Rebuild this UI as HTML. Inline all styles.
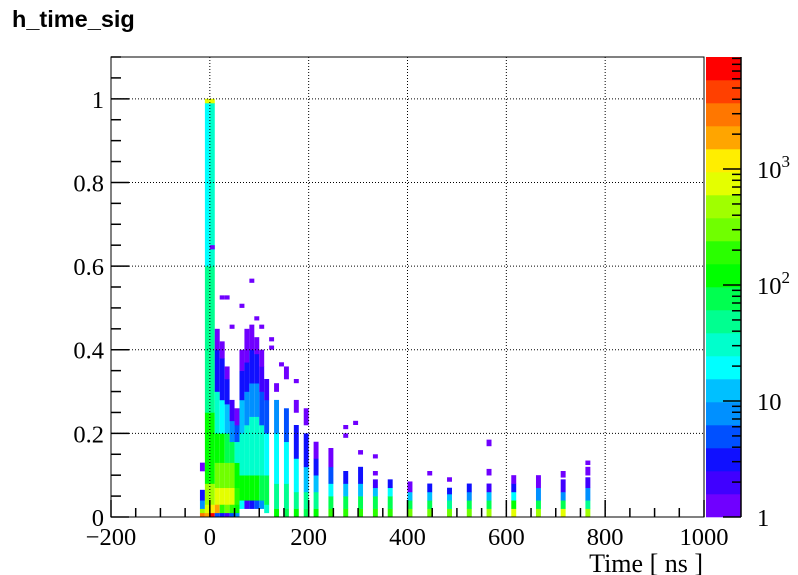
<!DOCTYPE html>
<html><head><meta charset="utf-8"><style>
html,body{margin:0;padding:0;background:#fff;}
svg{display:block;}
text{font-family:"Liberation Serif",serif;}
</style></head><body>
<svg id="c" width="798" height="575" viewBox="0 0 798 575" xmlns="http://www.w3.org/2000/svg">
<text x="12" y="27" style="font-family:'Liberation Sans',sans-serif;font-weight:bold;font-size:23.5px">h_time_sig</text>
<g id="cells"></g>
<g id="grid"></g>
<rect x="111" y="57" width="593" height="460" fill="none" stroke="#000" stroke-width="1"/>
<g id="axes"></g>
<g id="palette"></g>
<text x="703" y="572" text-anchor="end" font-size="26">Time [ ns ]</text>
</svg>
<script>
// ---- data ----
const xTicks = [-200, 0, 200, 400, 600, 800, 1000];
const yTicks = [0, 0.2, 0.4, 0.6, 0.8, 1];
const yTickLabels = ["0", "0.2", "0.4", "0.6", "0.8", "1"];
const zTicks = [1, 10, 100, 1000];
// blocks: [binStartNs, yLow, yHigh, counts]
const blocks = [
 [-20,0,0.01,2700],[-20,0.01,0.02,440],[-20,0.02,0.04,8],[-20,0.04,0.065,3],[-20,0.11,0.13,1],
 [-10,0,0.01,1700],[-10,0.01,0.03,900],[-10,0.03,0.08,440],[-10,0.08,0.25,115],[-10,0.25,0.6,47],[-10,0.6,0.99,19],[-10,0.99,1.0,700],
 [0,0,0.01,6500],[0,0.01,0.03,1100],[0,0.03,0.08,440],[0,0.08,0.25,115],[0,0.25,0.6,47],[0,0.6,0.99,25],[0,0.99,1.0,700],
 [10,0,0.01,5],[10,0.01,0.03,1700],[10,0.03,0.07,900],[10,0.07,0.13,280],[10,0.13,0.2,115],[10,0.2,0.3,30],[10,0.3,0.4,3],[10,0.4,0.45,1],
 [20,0,0.01,3],[20,0.01,0.03,180],[20,0.03,0.07,900],[20,0.07,0.13,350],[20,0.13,0.2,115],[20,0.2,0.28,19],[20,0.28,0.38,3],[20,0.38,0.42,1],
 [30,0,0.01,2],[30,0.01,0.03,280],[30,0.03,0.07,900],[30,0.07,0.13,280],[30,0.13,0.2,73],[30,0.2,0.27,12],[30,0.27,0.33,3],[30,0.33,0.36,1],
 [40,0,0.01,5],[40,0.01,0.03,180],[40,0.03,0.07,700],[40,0.07,0.13,280],[40,0.13,0.18,73],[40,0.18,0.23,8],[40,0.23,0.28,2],
 [50,0,0.01,8],[50,0.01,0.03,115],[50,0.03,0.07,180],[50,0.07,0.13,115],[50,0.13,0.18,30],[50,0.18,0.22,5],[50,0.22,0.26,1],
 [60,0.02,0.04,19],[60,0.04,0.1,115],[60,0.1,0.2,30],[60,0.2,0.28,12],[60,0.28,0.35,3],[60,0.35,0.4,1],
 [70,0.02,0.04,2],[70,0.04,0.1,115],[70,0.1,0.22,30],[70,0.22,0.3,8],[70,0.3,0.37,3],[70,0.37,0.45,1],
 [80,0.02,0.04,3],[80,0.04,0.1,115],[80,0.1,0.24,30],[80,0.24,0.32,8],[80,0.32,0.4,3],[80,0.4,0.46,1],
 [90,0.02,0.04,5],[90,0.04,0.1,115],[90,0.1,0.24,25],[90,0.24,0.32,8],[90,0.32,0.39,3],[90,0.39,0.43,1],
 [100,0.02,0.04,8],[100,0.04,0.1,90],[100,0.1,0.22,25],[100,0.22,0.3,5],[100,0.3,0.36,2],[100,0.36,0.4,1],
 [110,0.01,0.03,30],[110,0.03,0.1,73],[110,0.1,0.2,19],[110,0.2,0.28,5],[110,0.28,0.33,2],
 [130,0,0.02,115],[130,0.02,0.08,47],[130,0.08,0.2,19],[130,0.2,0.28,8],[130,0.3,0.32,1],
 [150,0,0.02,73],[150,0.02,0.08,47],[150,0.08,0.18,19],[150,0.18,0.26,5],[150,0.33,0.36,1],
 [170,0,0.02,115],[170,0.02,0.06,47],[170,0.06,0.14,19],[170,0.14,0.22,3],[170,0.25,0.28,1],
 [190,0,0.02,73],[190,0.02,0.06,47],[190,0.06,0.12,12],[190,0.12,0.2,3],[190,0.22,0.26,1],
 [210,0,0.02,115],[210,0.02,0.06,47],[210,0.06,0.1,12],[210,0.1,0.14,3],[210,0.14,0.18,1],
 [240,0,0.02,180],[240,0.02,0.05,73],[240,0.05,0.08,19],[240,0.08,0.12,5],[240,0.12,0.165,1],
 [270,0,0.02,180],[270,0.02,0.05,73],[270,0.05,0.08,12],[270,0.08,0.11,3],[270,0.19,0.2,1],
 [300,0,0.02,180],[300,0.02,0.05,73],[300,0.05,0.08,12],[300,0.08,0.12,3],[300,0.15,0.16,1],
 [330,0,0.02,180],[330,0.02,0.05,73],[330,0.05,0.07,12],[330,0.07,0.09,2],[330,0.1,0.11,1],
 [360,0,0.02,180],[360,0.02,0.05,73],[360,0.05,0.07,19],[360,0.07,0.09,3],
 [400,0,0.02,280],[400,0.02,0.04,73],[400,0.04,0.06,12],[400,0.06,0.085,1],
 [440,0,0.02,280],[440,0.02,0.04,73],[440,0.04,0.06,12],[440,0.06,0.08,3],[440,0.1,0.11,1],
 [480,0,0.02,280],[480,0.02,0.04,47],[480,0.04,0.055,12],[480,0.055,0.07,3],[480,0.085,0.095,1],
 [520,0,0.02,280],[520,0.02,0.04,73],[520,0.04,0.06,8],[520,0.06,0.08,3],
 [560,0,0.02,440],[560,0.02,0.04,73],[560,0.04,0.06,12],[560,0.06,0.08,2],[560,0.1,0.115,1],[560,0.17,0.185,1],
 [610,0,0.02,700],[610,0.02,0.04,115],[610,0.04,0.06,19],[610,0.06,0.08,3],[610,0.08,0.1,1],
 [660,0,0.02,440],[660,0.02,0.04,73],[660,0.04,0.07,8],[660,0.07,0.1,1],
 [710,0,0.02,700],[710,0.02,0.04,73],[710,0.04,0.06,8],[710,0.06,0.09,2],[710,0.095,0.11,1],
 [760,0,0.02,440],[760,0.02,0.04,47],[760,0.04,0.07,8],[760,0.07,0.095,2],[760,0.1,0.12,1],[760,0.125,0.135,1]
];
// isolated single-count cells: [timeNs, y]
const singles = [[0,0.64],[20,0.52],[30,0.52],[80,0.56],[60,0.5],[90,0.47],[100,0.45],[40,0.45],[120,0.4],[120,0.42],[140,0.36],[170,0.32],[270,0.21],[290,0.22],[330,0.14]];

// ---- scales ----
const X0=111, X1=704, Y0=517, Y1=57;
const xMin=-200, xMax=1000, yMin=0, yMax=1.1, zMax=9250;
const sx = v => X0 + (v - xMin) / (xMax - xMin) * (X1 - X0);
const sy = v => Y0 - (v - yMin) / (yMax - yMin) * (Y0 - Y1);
const sz = v => Y0 - Math.log10(v) / Math.log10(zMax) * (Y0 - Y1);
const colors = ["#7000ff","#4000ff","#1010ff","#0050ff","#0090ff","#00c0ff","#00ffff","#00ffcc","#00ff90","#00ff50","#00ff00","#2aff00","#70ff00","#a0ff00","#e4ff00","#ffee00","#ffa500","#ff7700","#ff4000","#ff0000"];
const colorFor = c => colors[Math.max(0, Math.min(19, Math.floor(Math.log10(c) / Math.log10(zMax) * 20)))];
const NS = "http://www.w3.org/2000/svg";
function mk(tag, attrs, parent) { const e = document.createElementNS(NS, tag); for (const k in attrs) e.setAttribute(k, attrs[k]); parent.appendChild(e); return e; }
const cells = document.getElementById('cells'), grid = document.getElementById('grid'), axes = document.getElementById('axes'), pal = document.getElementById('palette');
const BW = 10, BH = 0.01;
blocks.forEach(b => {
  const r = mk('rect', {x: sx(b[0]), y: sy(b[2]), width: sx(b[0]+BW) - sx(b[0]), height: sy(b[1]) - sy(b[2]) + 0.3, fill: colorFor(b[3])}, cells);
  
  
});
singles.forEach(s => {
  const r = mk('rect', {x: sx(s[0]), y: sy(s[1] + BH), width: sx(s[0]+BW) - sx(s[0]), height: sy(s[1]) - sy(s[1]+BH), fill: colorFor(1)}, cells);
  
  
});
// grid
xTicks.slice(1, -1).forEach(t => {
  const l = mk('line', {x1: sx(t), x2: sx(t), y1: Y1, y2: Y0, stroke: '#000', 'stroke-dasharray': '1,2'}, grid);
  
  
});
yTicks.slice(1).forEach(t => {
  const l = mk('line', {x1: X0, x2: X1, y1: sy(t), y2: sy(t), stroke: '#000', 'stroke-dasharray': '1,2'}, grid);
  
  
});
// x ticks
for (let v = xMin; v <= xMax + 1e-6; v += 50) {
  const major = Math.abs(v % 200) < 1e-6;
  mk('line', {x1: sx(v), x2: sx(v), y1: Y0, y2: Y0 - (major ? 17 : 9), stroke: '#000', 'stroke-width': 1.5}, axes);
}
xTicks.forEach(t => {
  const tx = mk('text', {x: sx(t), y: 545, 'text-anchor': 'middle', 'font-size': 24.5}, axes);
  tx.textContent = t < 0 ? '\u2212' + Math.abs(t) : String(t);
  
  
});
// y ticks
for (let v = 0; v <= yMax + 1e-6; v += 0.05) {
  const major = Math.abs(Math.round(v * 100) % 20) < 1e-6;
  mk('line', {x1: X0, x2: X0 + (major ? 18 : 10), y1: sy(v), y2: sy(v), stroke: '#000', 'stroke-width': 1.5}, axes);
}
yTicks.forEach((t, i) => {
  const tx = mk('text', {x: 104, y: sy(t) + 9, 'text-anchor': 'end', 'font-size': 24.5}, axes);
  tx.textContent = yTickLabels[i];
  
  
});
// palette
colors.forEach((c, i) => {
  const yb = Y0 - i * (Y0 - Y1) / 20, yt = Y0 - (i + 1) * (Y0 - Y1) / 20;
  const r = mk('rect', {x: 706, y: yt, width: 35, height: yb - yt + 0.3, fill: c}, pal);
  
  
});
mk('line', {x1: 741, x2: 741, y1: Y1, y2: Y0, stroke: '#000', 'stroke-width': 1.5}, pal);
for (let d = 1; d <= 1000; d *= 10) {
  for (let m = 1; m <= 9; m++) {
    const v = d * m; if (v > zMax) break;
    mk('line', {x1: 741, x2: 741 - (m === 1 ? 18 : 9), y1: sz(v), y2: sz(v), stroke: '#000', 'stroke-width': 1.5}, pal);
  }
}
zTicks.forEach(t => {
  const tx = mk('text', {x: 757, y: sz(t) + 9, 'font-size': 24.5}, pal);
  
  
  const e = Math.round(Math.log10(t));
  if (e <= 1) tx.textContent = String(t);
  else { tx.textContent = '10'; const sp = mk('tspan', {dy: -11, 'font-size': 17}, tx); sp.textContent = String(e); }
});
</script>
</body></html>
